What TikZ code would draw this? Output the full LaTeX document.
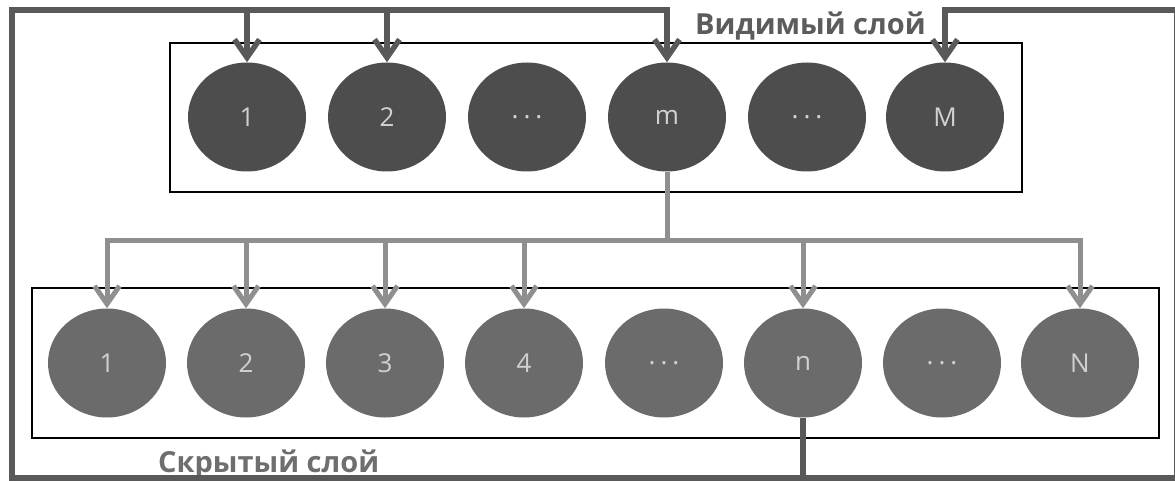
\documentclass[tikz,border=0pt]{standalone}
\usepackage{fontspec}
\setmainfont{Open Sans}
\usetikzlibrary{shapes.geometric,arrows.meta}
\definecolor{visfill}{HTML}{4D4D4D}
\definecolor{hidfill}{HTML}{6B6B6B}
\definecolor{backline}{HTML}{595959}
\definecolor{foreline}{HTML}{8F8F8F}
\definecolor{capgray}{HTML}{5C5C5C}
\definecolor{capgrayb}{HTML}{6E6E6E}
\newcommand{\gap}{.\hspace{5pt}.\hspace{5pt}.}
\begin{document}
\begin{tikzpicture}[x=1pt,y=-1pt,
  neuron/.style={ellipse,minimum width=118pt,minimum height=109pt,inner sep=0pt,
                 text=white!82!black,font=\fontsize{26}{26}\selectfont},
  visn/.style={neuron,fill=visfill},
  hidn/.style={neuron,fill=hidfill},
  layerbox/.style={draw=black,line width=2.5pt},
  tip/.style={-{Straight Barb[length=18pt,width=25pt]}},
  feedback/.style={draw=backline,line width=5.5pt},
  forward/.style={draw=foreline,line width=5pt},
  caption/.style={font=\fontsize{29}{29}\selectfont\bfseries,anchor=base west,inner sep=0pt}
]
\useasboundingbox (0,0) rectangle (1175,481);

% layer frames
\draw[layerbox] (170,43) rectangle (1022,192);
\draw[layerbox] (32,288) rectangle (1159,438);

% visible layer
\node[visn] (v1) at (247,117) {1};
\node[visn] (v2) at (387,117) {2};
\node[visn] (v3) at (527,117) {\gap};
\node[visn] (vm) at (667,117) {m};
\node[visn] (v5) at (807,117) {\gap};
\node[visn] (vM) at (945,117) {M};

% hidden layer
\node[hidn] (h1) at (107,363) {1};
\node[hidn] (h2) at (246,363) {2};
\node[hidn] (h3) at (385,363) {3};
\node[hidn] (h4) at (524,363) {4};
\node[hidn] (h5) at (664,363) {\gap};
\node[hidn] (hn) at (803,363) {n};
\node[hidn] (h7) at (942,363) {\gap};
\node[hidn] (hN) at (1080,363) {N};

% layer captions
\node[caption,text=capgray] (vcap) at (695,35) {Видимый слой};
\node[caption,text=capgrayb] (hcap) at (158,472) {Скрытый слой};

% forward links: m fans out to the hidden units
\coordinate (fork) at (vm.south |- 0,240);
\draw[forward] (vm.south) -- (fork);
\foreach \t in {h1,h2,h3,h4,hn,hN}
  \draw[forward,tip] (fork) -| (\t.north);

% feedback loop: n back to the visible units
\coordinate (base) at (hn.south |- 0,478);
\coordinate (lb) at (12,478);
\coordinate (lt) at (12,10);
\coordinate (rb) at (1177,478);
\coordinate (rt) at (1177,10);
\draw[feedback] (hn.south) -- (base);
\draw[feedback,tip] (base) -- (lb) -- (lt) -| (vm.north);
\draw[feedback,tip] (v1.north |- lt) -- (v1.north);
\draw[feedback,tip] (v2.north |- lt) -- (v2.north);
\draw[feedback,tip] (base) -- (rb) -- (rt) -| (vM.north);
\end{tikzpicture}
\end{document}
